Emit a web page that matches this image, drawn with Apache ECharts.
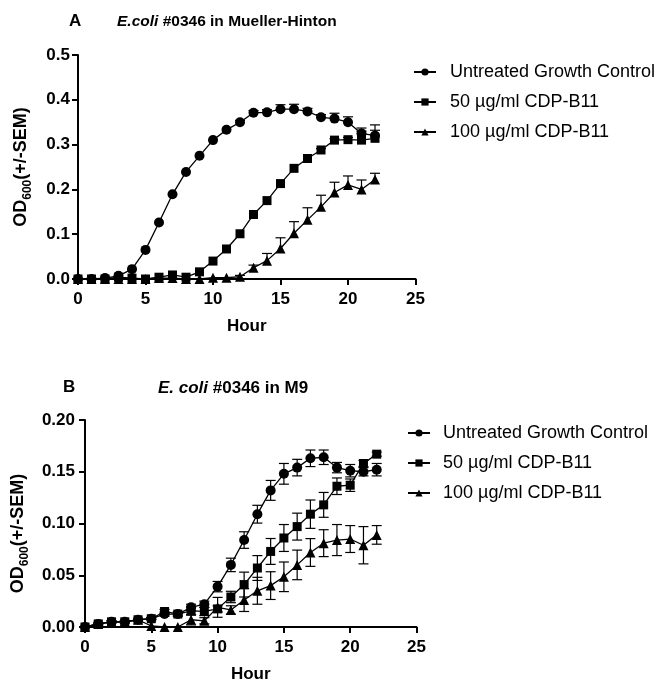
<!DOCTYPE html>
<html><head><meta charset="utf-8">
<script src="https://cdn.jsdelivr.net/npm/echarts@6/dist/echarts.min.js"></script>
<style>html,body{margin:0;padding:0;background:#fff}#c{width:656px;height:684px}</style>
</head><body><div id="c"></div>
<script>
const hours = [0,1,2,3,4,5,6,7,8,9,10,11,12,13,14,15,16,17,18,19,20,21,22];
const seriesNames = ['Untreated Growth Control','50 µg/ml CDP-B11','100 µg/ml CDP-B11'];
const xTicksMax = 25;
// Panel A: Mueller-Hinton
const ctrlA    = [0.000,0.000,0.002,0.007,0.022,0.065,0.126,0.189,0.239,0.275,0.310,0.333,0.350,0.371,0.372,0.379,0.379,0.374,0.361,0.358,0.350,0.325,0.320];
const ctrlAErr = [0,0,0,0,0,0,0,0,0,0,0,0,0.004,0.005,0.006,0.010,0.011,0.007,0.006,0.012,0.012,0.012,0.012];
const d50A     = [0.000,0.000,0.000,0.004,0.002,0.000,0.004,0.009,0.004,0.016,0.040,0.067,0.101,0.144,0.175,0.213,0.247,0.269,0.288,0.310,0.311,0.310,0.314];
const d50AErr  = [0,0,0,0,0,0,0,0,0,0,0,0,0,0,0,0,0,0,0.003,0.003,0.005,0.020,0.030];
const d100A    = [0.000,0.000,0.000,0.000,0.000,0.000,0.002,0.002,0.000,0.000,0.003,0.003,0.005,0.025,0.041,0.068,0.102,0.132,0.161,0.193,0.210,0.200,0.222];
const d100AErr = [0,0,0,0,0,0,0,0,0,0,0,0,0.003,0.006,0.016,0.024,0.026,0.027,0.026,0.023,0.020,0.021,0.014];
// Panel B: M9
const ctrlB    = [0.000,0.003,0.005,0.005,0.007,0.008,0.0125,0.0125,0.019,0.022,0.039,0.060,0.084,0.109,0.132,0.148,0.154,0.163,0.164,0.154,0.151,0.150,0.152];
const ctrlBErr = [0,0.001,0.001,0.001,0.001,0.001,0.002,0.002,0.003,0.003,0.005,0.0065,0.008,0.0086,0.0096,0.010,0.008,0.008,0.007,0.005,0.006,0.004,0.006];
const d50B     = [0.000,0.003,0.005,0.005,0.007,0.008,0.015,0.0125,0.0155,0.015,0.0175,0.029,0.041,0.057,0.073,0.086,0.097,0.109,0.118,0.136,0.137,0.158,0.167];
const d50BErr  = [0,0.001,0.001,0.001,0.001,0.001,0.002,0.002,0.004,0.004,0.003,0.0055,0.012,0.012,0.0125,0.013,0.013,0.0137,0.012,0.008,0.006,0.003,0.002];
const d100B    = [0.000,0.003,0.005,0.005,0.007,0.001,0.000,0.000,0.007,0.006,0.019,0.0165,0.026,0.035,0.040,0.0485,0.060,0.072,0.081,0.084,0.085,0.079,0.089];
const d100BErr = [0,0,0,0,0,0,0,0,0.005,0.003,0.0096,0.004,0.011,0.013,0.0134,0.0143,0.0143,0.0134,0.013,0.015,0.013,0.018,0.009];

const FONT = 'Liberation Sans, Arial, sans-serif';
const symbols = ['circle','rect','triangle'];
const symSizes = [10,9,10];

function pairs(v){ return hours.map((h,i)=>[h, v[i]]); }
function triples(v,e){ return hours.map((h,i)=>[h, v[i], e[i]]); }

function errRender(both){
  return function(params, api){
    const x = api.value(0), y = api.value(1), e = api.value(2);
    if (!e) return;
    const t = api.coord([x, y+e]);
    const b = api.coord([x, both ? y-e : y]);
    const hw = 5;
    const st = {stroke:'#000', lineWidth:1.2, fill:null};
    const ch = [
      {type:'line', shape:{x1:t[0],y1:t[1],x2:b[0],y2:b[1]}, style:st},
      {type:'line', shape:{x1:t[0]-hw,y1:t[1],x2:t[0]+hw,y2:t[1]}, style:st}
    ];
    if (both) ch.push({type:'line', shape:{x1:b[0]-hw,y1:b[1],x2:b[0]+hw,y2:b[1]}, style:st});
    return {type:'group', children:ch};
  };
}

function lineSeries(gi, k, vals){
  return {type:'line', name:seriesNames[k], xAxisIndex:gi, yAxisIndex:gi,
    data:pairs(vals), symbol:symbols[k], symbolSize:symSizes[k], showAllSymbol:true,
    lineStyle:{color:'#000', width:1.3}, itemStyle:{color:'#000'}, z:3, animation:false};
}
function errSeries(gi, k, vals, errs, both){
  return {type:'custom', name:'err'+gi+'_'+k, xAxisIndex:gi, yAxisIndex:gi,
    data:triples(vals,errs), renderItem:errRender(both), z:2, animation:false, silent:true};
}

const axisLineStyle = {show:true, lineStyle:{color:'#000', width:2}};
function xAxis(gi){
  return {type:'value', gridIndex:gi, min:0, max:xTicksMax, interval:5,
    axisLine:axisLineStyle, axisTick:{show:true, length:6, lineStyle:{color:'#000', width:2}},
    splitLine:{show:false},
    axisLabel:{color:'#000', fontFamily:FONT, fontWeight:'bold', fontSize:17, margin:12},
    name:'Hour', nameLocation:'middle', nameGap:39,
    nameTextStyle:{color:'#000', fontFamily:FONT, fontWeight:'bold', fontSize:17}};
}
function yAxis(gi, max, interval, dec, pad, margin){
  return {type:'value', gridIndex:gi, min:0, max:max, interval:interval,
    axisLine:axisLineStyle, axisTick:{show:true, length:6, lineStyle:{color:'#000', width:2}},
    splitLine:{show:false},
    axisLabel:{color:'#000', fontFamily:FONT, fontWeight:'bold', fontSize:17, margin:margin,
      formatter:v=>v.toFixed(dec)},
    name:'{a|OD}{s|600}{a|(+/-SEM)}', nameLocation:'middle', nameRotate:90, nameGap: dec===1?44:54,
    nameTextStyle:{color:'#000', padding:pad, rich:{
      a:{fontFamily:FONT, fontWeight:'bold', fontSize:18, color:'#000', lineHeight:26},
      s:{fontFamily:FONT, fontWeight:'bold', fontSize:12, color:'#000', verticalAlign:'bottom', lineHeight:26}
    }}};
}
function legend(left, top, pad){
  return {orient:'vertical', left:left, top:top, data:seriesNames, itemWidth:22, itemHeight:9, itemGap:12,
    selectedMode:false, textStyle:{color:'#000', fontFamily:FONT, fontSize:18, padding:[0,0,0,pad]}};
}
function titleRich(fs){
  return {
    b:{fontFamily:FONT, fontWeight:'bold', fontSize:fs, color:'#000'},
    i:{fontFamily:FONT, fontWeight:'bold', fontStyle:'italic', fontSize:fs, color:'#000'}
  };
}

const option = {
  backgroundColor:'#fff',
  animation:false,
  title:[
    {text:'{b|A}', left:64, top:8, textStyle:{rich:titleRich(17)}},
    {text:'{i|E.coli}{b| #0346 in Mueller-Hinton}', left:112, top:9, textStyle:{rich:titleRich(15.5)}},
    {text:'{b|B}', left:58, top:374, textStyle:{rich:titleRich(17)}},
    {text:'{i|E. coli}{b| #0346 in M9}', left:153, top:375, textStyle:{rich:titleRich(17)}}
  ],
  legend:[legend(408, 58, 9), legend(402, 419, 8)],
  grid:[
    {left:78, top:55, width:337.5, height:224},
    {left:85, top:420, width:331.5, height:209}
  ],
  xAxis:[xAxis(0), xAxis(1)],
  yAxis:[yAxis(0, 0.5, 0.1, 1, [0,0,0,0], 8), yAxis(1, 0.2, 0.05, 2, [0,20,0,0], 10)],
  series:[
    errSeries(0,0,ctrlA,ctrlAErr,false),
    errSeries(0,1,d50A,d50AErr,false),
    errSeries(0,2,d100A,d100AErr,false),
    lineSeries(0,0,ctrlA), lineSeries(0,1,d50A), lineSeries(0,2,d100A),
    errSeries(1,0,ctrlB,ctrlBErr,true),
    errSeries(1,1,d50B,d50BErr,true),
    errSeries(1,2,d100B,d100BErr,true),
    lineSeries(1,0,ctrlB), lineSeries(1,1,d50B), lineSeries(1,2,d100B)
  ]
};
const chart = echarts.init(document.getElementById('c'), null, {renderer:'canvas'});
chart.setOption(option);
</script>
</body></html>
